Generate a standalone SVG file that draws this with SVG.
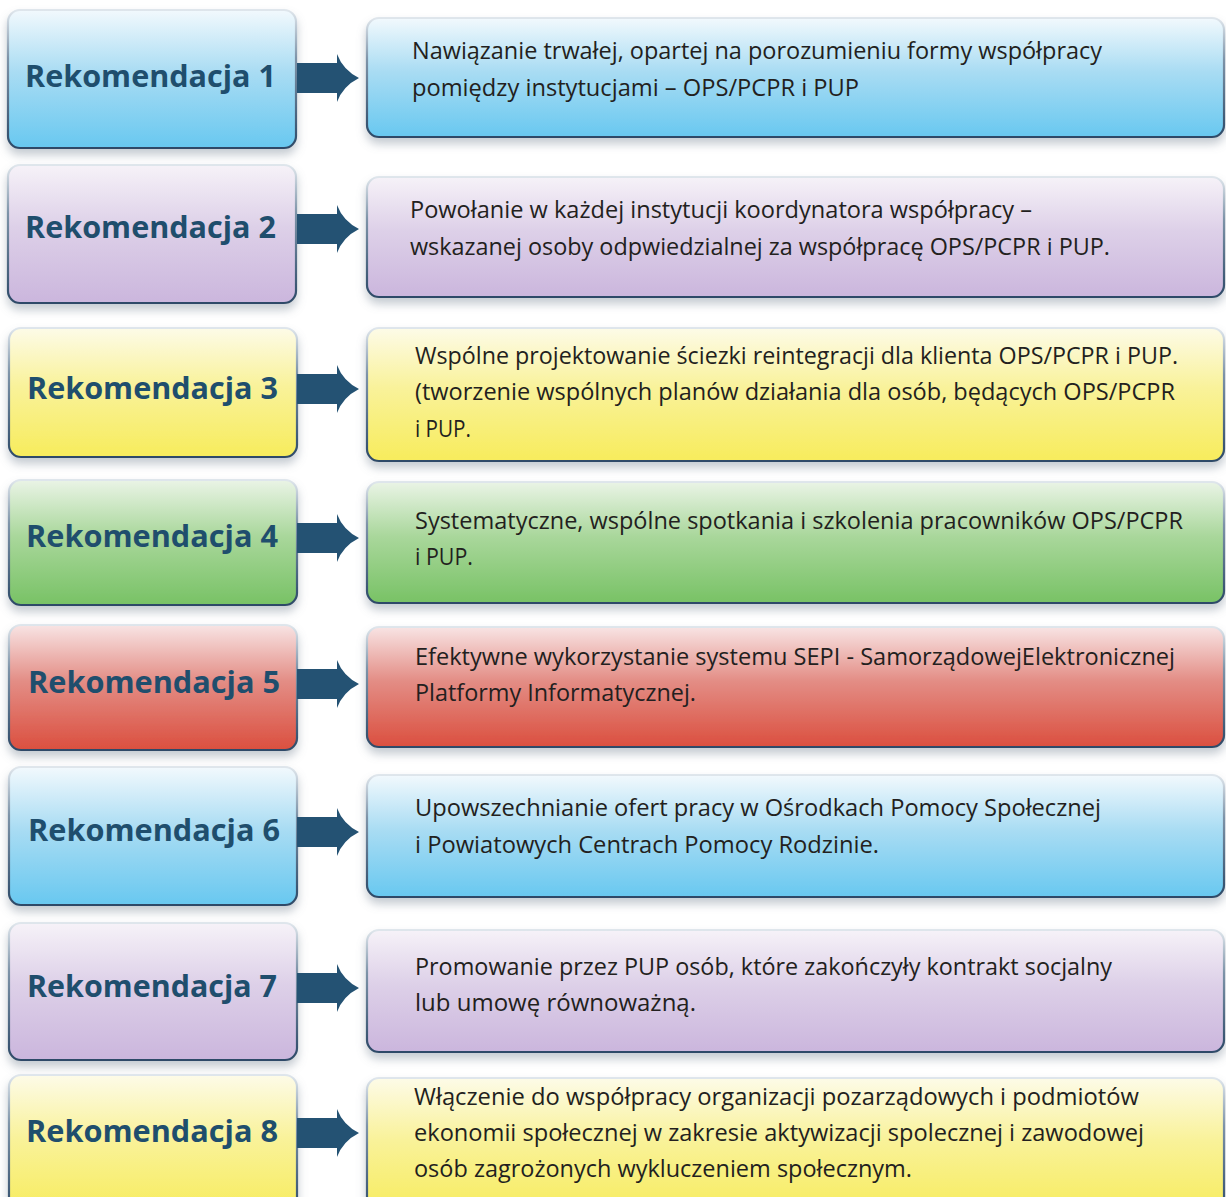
<svg xmlns="http://www.w3.org/2000/svg" width="1226" height="1197" viewBox="0 0 1226 1197">
<defs>
<linearGradient id="gBlue" x1="0" y1="0" x2="0" y2="1"><stop offset="0" stop-color="#f2f9fd"/><stop offset="0.45" stop-color="#a9dcf3"/><stop offset="1" stop-color="#68c8f0"/></linearGradient>
<linearGradient id="gPurple" x1="0" y1="0" x2="0" y2="1"><stop offset="0" stop-color="#f6f2f8"/><stop offset="0.45" stop-color="#ddd0e8"/><stop offset="1" stop-color="#cbb6dd"/></linearGradient>
<linearGradient id="gYellow" x1="0" y1="0" x2="0" y2="1"><stop offset="0" stop-color="#fdfbe8"/><stop offset="0.45" stop-color="#f9f29a"/><stop offset="1" stop-color="#f7ec5c"/></linearGradient>
<linearGradient id="gGreen" x1="0" y1="0" x2="0" y2="1"><stop offset="0" stop-color="#eaf4e6"/><stop offset="0.45" stop-color="#a9d79b"/><stop offset="1" stop-color="#78c265"/></linearGradient>
<linearGradient id="gRed" x1="0" y1="0" x2="0" y2="1"><stop offset="0" stop-color="#f8e4e4"/><stop offset="0.45" stop-color="#e38d85"/><stop offset="1" stop-color="#db4f3f"/></linearGradient>
<linearGradient id="gEdge" x1="0" y1="0" x2="0" y2="1"><stop offset="0" stop-color="#dfe6ec"/><stop offset="0.35" stop-color="#7d93a8"/><stop offset="1" stop-color="#2d4a68"/></linearGradient>
<filter id="shadow" x="-5%" y="-10%" width="110%" height="130%"><feDropShadow dx="0" dy="6" stdDeviation="5" flood-color="#7f8c99" flood-opacity="0.45"/></filter>
</defs>
<style>
.box{stroke:url(#gEdge);stroke-width:2.2;filter:url(#shadow)}
.blue{fill:url(#gBlue)}.purple{fill:url(#gPurple)}.yellow{fill:url(#gYellow)}.green{fill:url(#gGreen)}.red{fill:url(#gRed)}
.lbl{font-family:"Open Sans","Noto Sans","Liberation Sans",sans-serif;font-weight:700;font-size:30.5px;fill:#1f4e6d}
.txt{font-family:"Open Sans","Noto Sans","Liberation Sans",sans-serif;font-size:24.5px;fill:#231f20}
.arr{fill:#245273}
</style>
<rect width="1226" height="1197" fill="#ffffff"/>

<g id="rec1"><rect class="box blue" x="8" y="10" width="288" height="138" rx="12"/><text class="lbl" x="25" y="87" textLength="251" lengthAdjust="spacingAndGlyphs">Rekomendacja 1</text></g>
<g id="desc1"><rect class="box blue" x="367" y="18" width="857" height="119" rx="12"/><text class="txt"><tspan x="412" y="59" textLength="690" lengthAdjust="spacingAndGlyphs">Nawiązanie trwałej, opartej na porozumieniu formy współpracy</tspan><tspan x="412" y="96" textLength="447" lengthAdjust="spacingAndGlyphs">pomiędzy instytucjami – OPS/PCPR i PUP</tspan></text></g>

<g id="rec2"><rect class="box purple" x="8" y="165" width="288" height="138" rx="12"/><text class="lbl" x="25" y="238" textLength="251" lengthAdjust="spacingAndGlyphs">Rekomendacja 2</text></g>
<g id="desc2"><rect class="box purple" x="367" y="177" width="857" height="120" rx="12"/><text class="txt"><tspan x="410" y="218" textLength="622" lengthAdjust="spacingAndGlyphs">Powołanie w każdej instytucji koordynatora współpracy –</tspan><tspan x="410" y="255" textLength="700" lengthAdjust="spacingAndGlyphs">wskazanej osoby odpwiedzialnej za współpracę OPS/PCPR i PUP.</tspan></text></g>

<g id="rec3"><rect class="box yellow" x="9" y="328" width="288" height="129" rx="12"/><text class="lbl" x="27" y="399" textLength="251" lengthAdjust="spacingAndGlyphs">Rekomendacja 3</text></g>
<g id="desc3"><rect class="box yellow" x="367" y="328" width="857" height="133" rx="12"/><text class="txt"><tspan x="415" y="364" textLength="763" lengthAdjust="spacingAndGlyphs">Wspólne projektowanie ściezki reintegracji dla klienta OPS/PCPR i PUP.</tspan><tspan x="415" y="400" textLength="760" lengthAdjust="spacingAndGlyphs">(tworzenie wspólnych planów działania dla osób, będących OPS/PCPR</tspan><tspan x="415" y="437" textLength="56" lengthAdjust="spacingAndGlyphs">i PUP.</tspan></text></g>

<g id="rec4"><rect class="box green" x="9" y="480" width="288" height="125" rx="12"/><text class="lbl" x="26" y="547" textLength="252" lengthAdjust="spacingAndGlyphs">Rekomendacja 4</text></g>
<g id="desc4"><rect class="box green" x="367" y="482" width="857" height="121" rx="12"/><text class="txt"><tspan x="415" y="529" textLength="768" lengthAdjust="spacingAndGlyphs">Systematyczne, wspólne spotkania i szkolenia pracowników OPS/PCPR</tspan><tspan x="415" y="565" textLength="58" lengthAdjust="spacingAndGlyphs">i PUP.</tspan></text></g>

<g id="rec5"><rect class="box red" x="9" y="625" width="288" height="125" rx="12"/><text class="lbl" x="28" y="693" textLength="252" lengthAdjust="spacingAndGlyphs">Rekomendacja 5</text></g>
<g id="desc5"><rect class="box red" x="367" y="627" width="857" height="120" rx="12"/><text class="txt"><tspan x="415" y="665" textLength="760" lengthAdjust="spacingAndGlyphs">Efektywne wykorzystanie systemu SEPI - SamorządowejElektronicznej</tspan><tspan x="415" y="701" textLength="281" lengthAdjust="spacingAndGlyphs">Platformy Informatycznej.</tspan></text></g>

<g id="rec6"><rect class="box blue" x="9" y="767" width="288" height="138" rx="12"/><text class="lbl" x="28" y="841" textLength="252" lengthAdjust="spacingAndGlyphs">Rekomendacja 6</text></g>
<g id="desc6"><rect class="box blue" x="367" y="775" width="857" height="122" rx="12"/><text class="txt"><tspan x="415" y="816" textLength="686" lengthAdjust="spacingAndGlyphs">Upowszechnianie ofert pracy w Ośrodkach Pomocy Społecznej</tspan><tspan x="415" y="853" textLength="464" lengthAdjust="spacingAndGlyphs">i Powiatowych Centrach Pomocy Rodzinie.</tspan></text></g>

<g id="rec7"><rect class="box purple" x="9" y="923" width="288" height="137" rx="12"/><text class="lbl" x="27" y="997" textLength="250" lengthAdjust="spacingAndGlyphs">Rekomendacja 7</text></g>
<g id="desc7"><rect class="box purple" x="367" y="930" width="857" height="122" rx="12"/><text class="txt"><tspan x="415" y="975" textLength="697" lengthAdjust="spacingAndGlyphs">Promowanie przez PUP osób, które zakończyły kontrakt socjalny</tspan><tspan x="415" y="1011" textLength="281" lengthAdjust="spacingAndGlyphs">lub umowę równoważną.</tspan></text></g>

<g id="rec8"><rect class="box yellow" x="9" y="1075" width="288" height="140" rx="12"/><text class="lbl" x="26" y="1142" textLength="252" lengthAdjust="spacingAndGlyphs">Rekomendacja 8</text></g>
<g id="desc8"><rect class="box yellow" x="367" y="1078" width="857" height="137" rx="12"/><text class="txt"><tspan x="414" y="1105" textLength="725" lengthAdjust="spacingAndGlyphs">Włączenie do współpracy organizacji pozarządowych i podmiotów</tspan><tspan x="414" y="1141" textLength="730" lengthAdjust="spacingAndGlyphs">ekonomii społecznej w zakresie aktywizacji spolecznej i zawodowej</tspan><tspan x="414" y="1177" textLength="498" lengthAdjust="spacingAndGlyphs">osób zagrożonych wykluczeniem społecznym.</tspan></text></g>

<g id="connectors">
<path class="arr" d="M297,63 H337 V54 Q343,70 359,78 Q343,86 337,102 V93 H297 Z"/>
<path class="arr" d="M297,214 H337 V205 Q343,221 359,229 Q343,237 337,253 V244 H297 Z"/>
<path class="arr" d="M297,374 H337 V365 Q343,381 359,389 Q343,397 337,413 V404 H297 Z"/>
<path class="arr" d="M297,523 H337 V514 Q343,530 359,538 Q343,546 337,562 V553 H297 Z"/>
<path class="arr" d="M297,669 H337 V660 Q343,676 359,684 Q343,692 337,708 V699 H297 Z"/>
<path class="arr" d="M297,817 H337 V808 Q343,824 359,832 Q343,840 337,856 V847 H297 Z"/>
<path class="arr" d="M297,973 H337 V964 Q343,980 359,988 Q343,996 337,1012 V1003 H297 Z"/>
<path class="arr" d="M297,1118 H337 V1109 Q343,1125 359,1133 Q343,1141 337,1157 V1148 H297 Z"/>
</g>
</svg>
